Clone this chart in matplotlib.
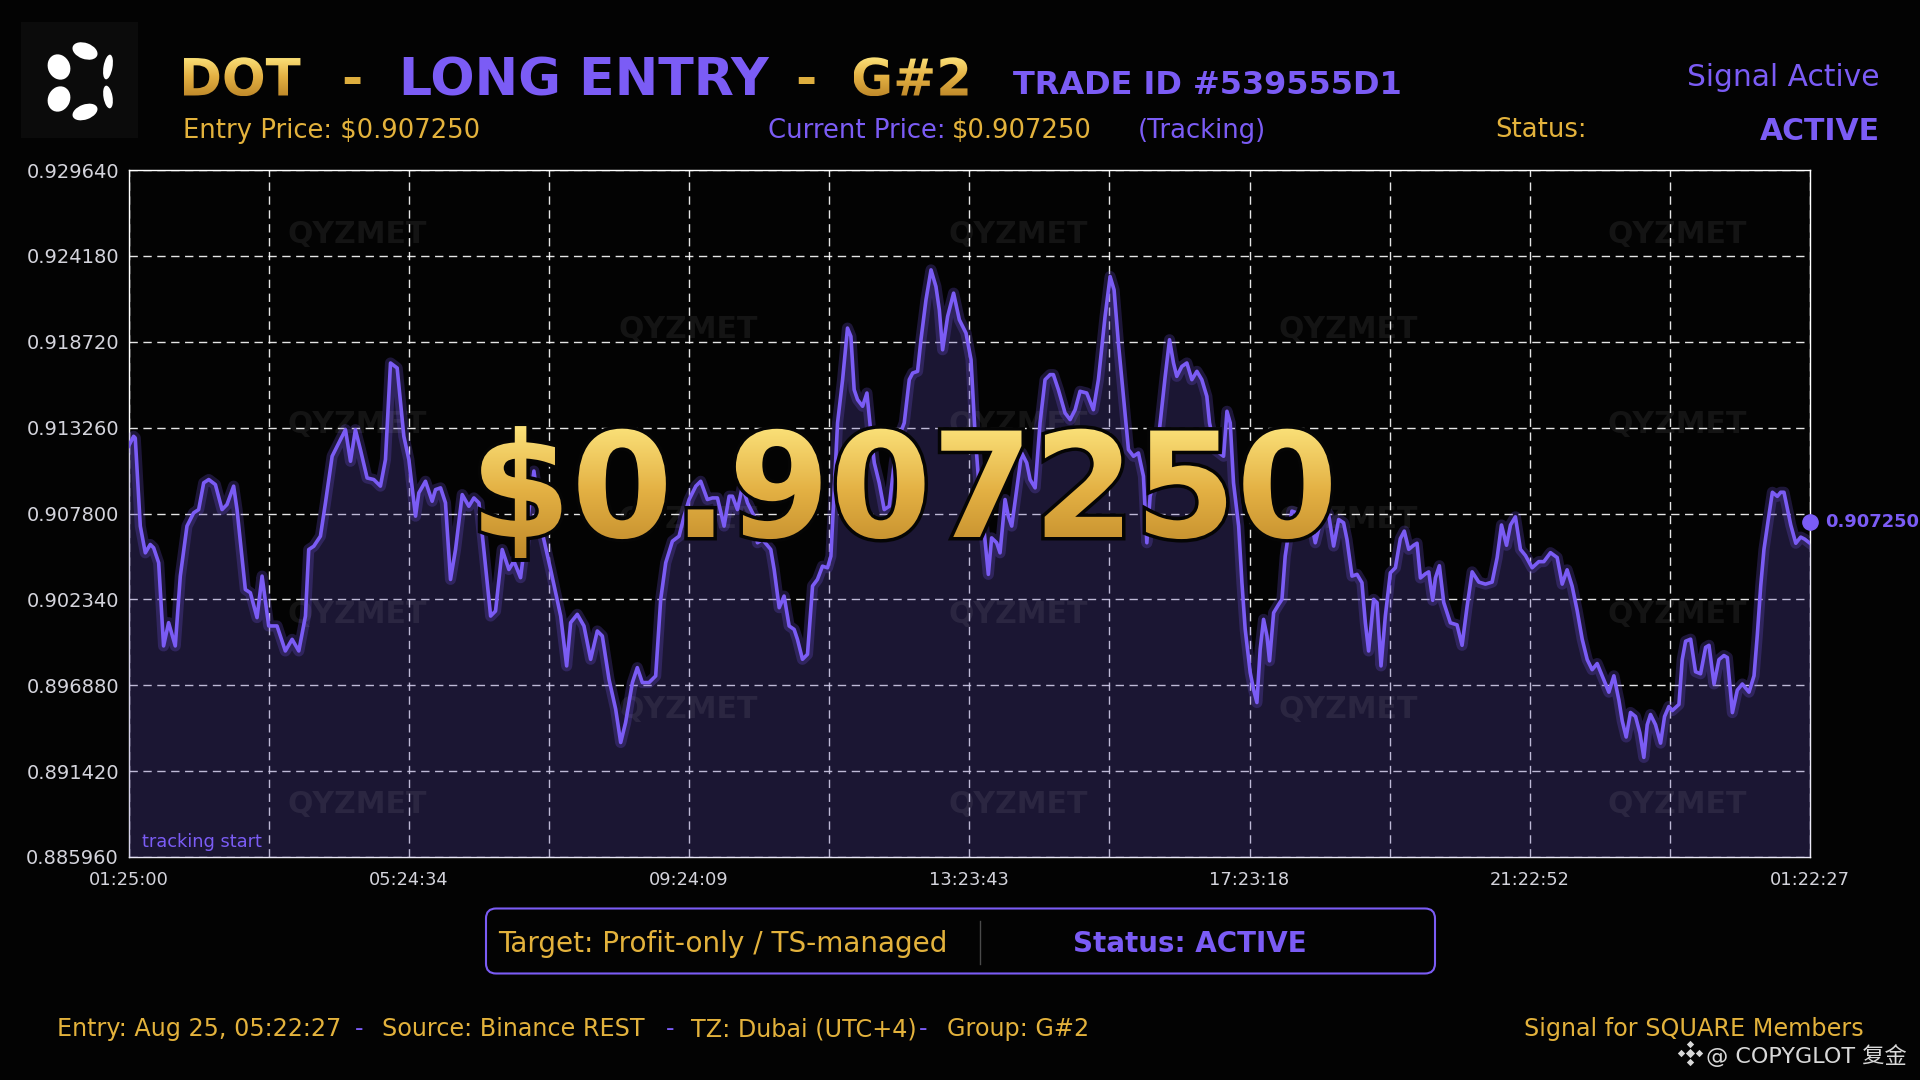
import numpy as np
import matplotlib
matplotlib.use("Agg")
import matplotlib.pyplot as plt
from matplotlib.textpath import TextPath
from matplotlib.patches import PathPatch, FancyBboxPatch, Rectangle, Ellipse
from matplotlib.font_manager import FontProperties
from matplotlib.transforms import Affine2D
from matplotlib.colors import LinearSegmentedColormap
import matplotlib.patheffects as pe

# ---- data: minutes after 01:25:00 and DOT price ----
minutes = [
    0, 4.3, 5.7, 10.0, 14.3, 18.5, 21.4, 25.7, 29.9, 34.2,
    39.9, 44.2, 49.9, 55.6, 59.9, 64.2, 68.5, 74.2, 79.9, 84.1,
    89.8, 92.7, 99.8, 104.1, 109.8, 114.1, 119.8, 126.9, 134.0, 139.8,
    145.5, 151.2, 154.0, 158.3, 164.0, 168.3, 174.0, 179.7, 185.4, 189.7,
    193.9, 198.2, 203.9, 209.6, 215.3, 219.6, 223.9, 229.6, 235.3, 239.6,
    245.3, 248.1, 253.8, 259.5, 262.4, 266.7, 270.9, 275.2, 279.5, 285.2,
    290.9, 295.2, 299.5, 303.7, 309.5, 313.7, 319.4, 325.1, 329.4, 335.1,
    346.5, 353.7, 360.8,
    369.4, 374.5, 377.9, 383.6, 389.3, 395.0, 400.7, 405.0, 410.7, 416.4,
    420.7, 424.9, 430.7, 434.9, 439.2, 444.9, 450.6, 454.9, 459.2, 464.9,
    470.6, 474.9, 479.2, 484.9, 489.1, 494.8, 499.1, 503.4, 509.1, 513.4,
    516.2, 520.5, 524.8, 529.1, 534.8, 537.6, 541.9, 549.0, 551.9, 556.2,
    560.4, 564.7, 569.0, 571.8, 576.1, 580.4, 584.7, 588.9, 593.2, 597.5,
    600.4, 603.2, 606.1, 610.4, 614.6, 617.5, 620.3, 623.2, 627.5, 631.2,
    634.6, 637.5, 641.7, 646.0, 650.3, 654.6, 658.8, 663.1, 667.4, 670.3,
    674.5, 677.4, 681.7, 686.0, 690.2, 693.1, 695.9, 700.2, 705.3, 710.2,
    715.9, 720.2,
    723.6, 726.4, 732.1, 735.0, 737.8, 742.1, 745.0, 749.3, 752.1, 755.0,
    759.2, 763.5, 767.8, 770.7, 775.0, 779.2, 783.5, 787.8, 790.6, 794.9,
    800.6, 804.9, 809.2, 813.4, 819.1, 824.8, 829.1, 834.8, 839.1, 842.5,
    846.2, 850.5, 854.8, 859.1, 863.3, 867.6, 870.5, 873.3, 876.2, 881.9,
    886.2, 889.9, 893.3, 896.1, 900.4, 904.7, 909.0, 913.3, 917.5, 921.8,
    924.1, 928.9, 936.1, 939.0, 941.8, 944.6, 949.0, 951.8, 954.6, 958.9,
    961.7, 964.6, 967.4, 970.3, 973.2, 975.4, 978.9, 983.2, 986.0, 988.8,
    991.7, 994.5, 998.8, 1003.1, 1010.2, 1014.5, 1018.8, 1023.0, 1025.9, 1030.2,
    1034.5, 1038.7, 1041.6, 1045.9, 1050.2, 1054.4, 1057.3, 1060.1, 1064.4, 1067.3,
    1070.7, 1074.4, 1078.7, 1083.0, 1087.2,
    1090.6, 1094.4, 1098.6, 1101.5, 1104.4, 1108.6, 1111.5, 1114.9, 1117.2, 1120.6,
    1124.3, 1130.0, 1135.7, 1140.0, 1144.3, 1148.6, 1154.3, 1160.0, 1165.7, 1170.0,
    1173.7, 1178.0, 1181.4, 1185.6, 1189.9, 1194.2, 1199.9, 1205.6, 1209.9, 1215.6,
    1221.3, 1225.6, 1229.8, 1234.1, 1238.4, 1242.7, 1247.0, 1251.2, 1255.5, 1259.8,
    1265.5, 1269.8, 1274.1, 1276.9, 1280.3, 1284.0, 1288.3, 1292.0, 1295.4, 1298.3,
    1301.1, 1305.4, 1309.7, 1313.1, 1316.8, 1319.7, 1325.4, 1328.2, 1331.1, 1335.4,
    1339.6, 1343.9, 1348.2, 1351.1, 1355.4, 1359.6, 1363.9, 1366.8, 1371.1, 1375.3,
    1379.6, 1382.5, 1385.3, 1389.6, 1392.4, 1395.3, 1398.1, 1402.4, 1405.3, 1409.5,
    1412.4, 1415.2, 1418.1, 1421.0, 1425.3, 1429.5, 1432.9, 1437.4,
]
prices = [
    0.91208, 0.91271, 0.91260, 0.90700, 0.90530, 0.90583, 0.90562, 0.90467, 0.89938, 0.90086,
    0.89938, 0.90382, 0.90700, 0.90784, 0.90805, 0.90975, 0.90996, 0.90964, 0.90805, 0.90837,
    0.90954, 0.90805, 0.90297, 0.90276, 0.90118, 0.90382, 0.90065, 0.90065, 0.89906, 0.89980,
    0.89906, 0.90128, 0.90551, 0.90572, 0.90636, 0.90848, 0.91144, 0.91229, 0.91313, 0.91112,
    0.91313, 0.91186, 0.91006, 0.90996, 0.90954, 0.91123, 0.91737, 0.91705, 0.91271, 0.91123,
    0.90763, 0.90911, 0.90985, 0.90858, 0.90932, 0.90943, 0.90848, 0.90361, 0.90551, 0.90900,
    0.90826, 0.90879, 0.90848, 0.90551, 0.90128, 0.90160, 0.90551, 0.90424, 0.90477, 0.90372,
    0.91050, 0.90657, 0.90424,
    0.90128, 0.89811, 0.90086, 0.90139, 0.90065, 0.89853, 0.90033, 0.90001, 0.89726, 0.89536,
    0.89324, 0.89451, 0.89705, 0.89800, 0.89705, 0.89705, 0.89747, 0.90234, 0.90467, 0.90604,
    0.90636, 0.90763, 0.90869, 0.90954, 0.90985, 0.90869, 0.90879, 0.90879, 0.90700, 0.90890,
    0.90890, 0.90805, 0.90954, 0.90848, 0.90763, 0.90594, 0.90615, 0.90551, 0.90424, 0.90181,
    0.90255, 0.90065, 0.90043, 0.89980, 0.89853, 0.89885, 0.90319, 0.90361, 0.90445, 0.90435,
    0.90509, 0.90932, 0.91356, 0.91631, 0.91959, 0.91906, 0.91567, 0.91504, 0.91462, 0.91546,
    0.91292, 0.91102, 0.90975, 0.90805, 0.90826, 0.91102, 0.91271, 0.91356, 0.91631, 0.91673,
    0.91684, 0.91885, 0.92139, 0.92329, 0.92223, 0.92075, 0.91821, 0.92033, 0.92181, 0.92012,
    0.91927, 0.91758,
    0.91292, 0.91017, 0.90615, 0.90393, 0.90625, 0.90594, 0.90530, 0.90869, 0.90763, 0.90700,
    0.90932, 0.91165, 0.91102, 0.90996, 0.90943, 0.91356, 0.91631, 0.91663, 0.91663, 0.91567,
    0.91419, 0.91377, 0.91440, 0.91557, 0.91546, 0.91440, 0.91631, 0.92033, 0.92287, 0.92202,
    0.91864, 0.91525, 0.91186, 0.91144, 0.91165, 0.91017, 0.90594, 0.90890, 0.90975, 0.91356,
    0.91652, 0.91885, 0.91737, 0.91652, 0.91715, 0.91737, 0.91631, 0.91684, 0.91631, 0.91525,
    0.91356, 0.91186, 0.91144, 0.91430, 0.91356, 0.90975, 0.90700, 0.90340, 0.90043, 0.89768,
    0.89662, 0.89578, 0.89917, 0.90107, 0.90001, 0.89843, 0.90149, 0.90202, 0.90234, 0.90509,
    0.90657, 0.90795, 0.90784, 0.90784, 0.90763, 0.90594, 0.90721, 0.90805, 0.90774, 0.90573,
    0.90742, 0.90721, 0.90615, 0.90382, 0.90393, 0.90340, 0.90086, 0.89906, 0.90234, 0.90213,
    0.89811, 0.90128, 0.90403, 0.90435, 0.90620,
    0.90668, 0.90552, 0.90578, 0.90591, 0.90370, 0.90396, 0.90409, 0.90228, 0.90370, 0.90448,
    0.90215, 0.90085, 0.90072, 0.89942, 0.90189, 0.90409, 0.90344, 0.90331, 0.90344, 0.90500,
    0.90707, 0.90578, 0.90707, 0.90759, 0.90552, 0.90513, 0.90435, 0.90474, 0.90474, 0.90531,
    0.90500, 0.90331, 0.90422, 0.90318, 0.90163, 0.89981, 0.89851, 0.89787, 0.89826, 0.89748,
    0.89644, 0.89748, 0.89592, 0.89462, 0.89359, 0.89515, 0.89489, 0.89385, 0.89229, 0.89437,
    0.89502, 0.89437, 0.89320, 0.89489, 0.89553, 0.89527, 0.89566, 0.89851, 0.89968, 0.89981,
    0.89774, 0.89761, 0.89929, 0.89942, 0.89696, 0.89851, 0.89877, 0.89864, 0.89514, 0.89657,
    0.89696, 0.89670, 0.89644, 0.89748, 0.90007, 0.90318, 0.90552, 0.90772, 0.90915, 0.90889,
    0.90915, 0.90915, 0.90811, 0.90707, 0.90591, 0.90630, 0.90617, 0.90591,
]
current_price = 0.907250
total_minutes = 23 * 60 + 57 + 27 / 60
y_ticks = [0.885960, 0.891420, 0.896880, 0.902340, 0.907800,
           0.913260, 0.918720, 0.924180, 0.929640]
x_tick_labels = ["01:25:00", "05:24:34", "09:24:09", "13:23:43",
                 "17:23:18", "21:22:52", "01:22:27"]

PURPLE = "#7b5cf5"
GOLD = "#e3b23c"
BG = "#030303"
TICK = "#d4d4dc"

gold_cmap = LinearSegmentedColormap.from_list("gold", ["#c08a2a", "#e3b043", "#fbe27a"])
grad = np.linspace(0, 1, 256).reshape(-1, 1)


def gold_text(ax, x, y, s, size, ha="left", outline=3.0):
    # text drawn as a path, filled with a vertical gold gradient
    prop = FontProperties(family="DejaVu Sans", weight="bold")
    tp = TextPath((0, 0), s, size=size, prop=prop)
    bb = tp.get_extents()
    dx = x - (bb.x0 + bb.x1) / 2 if ha == "center" else x - bb.x0
    trans = Affine2D().translate(dx, y) + ax.transData
    ax.add_patch(PathPatch(tp, transform=trans, facecolor="none",
                           edgecolor="#050505", lw=outline, zorder=8))
    im = ax.imshow(grad, cmap=gold_cmap, aspect="auto", origin="lower",
                   extent=(bb.x0 + dx, bb.x1 + dx, bb.y0 + y, bb.y1 + y), zorder=9)
    im.set_clip_path(PathPatch(tp, transform=trans))


fig = plt.figure(figsize=(19.2, 10.8), dpi=100, facecolor=BG)

# ---- main chart ----
ax = fig.add_axes([128.6 / 1920, 1 - 857 / 1080, (1810 - 128.6) / 1920, (857 - 170) / 1080])
ax.set_facecolor(BG)
ax.set_xlim(0, total_minutes)
ax.set_ylim(y_ticks[0], y_ticks[-1])
ax.set_yticks(y_ticks)
ax.set_yticklabels([f"{v:.6f}" for v in y_ticks])
xt = np.linspace(0, total_minutes, 13)
ax.set_xticks(xt)
ax.set_xticklabels([x_tick_labels[i // 2] if i % 2 == 0 else "" for i in range(13)])
ax.tick_params(axis="y", length=0, colors=TICK, labelsize=14, pad=7)
ax.tick_params(axis="x", length=0, colors=TICK, labelsize=12.8, pad=10)
for sp in ax.spines.values():
    sp.set_color("white")
    sp.set_linewidth(1)
ax.set_axisbelow(True)
ax.grid(True, color="white", ls=(0, (6, 4)), lw=1, alpha=0.9)

ax.fill_between(minutes, prices, y_ticks[0], color="#5a48b0", alpha=0.28, lw=0, zorder=2.6)
ax.plot(minutes, prices, color=PURPLE, lw=2.6, zorder=4,
        path_effects=[pe.Stroke(linewidth=8, foreground=PURPLE, alpha=0.22), pe.Normal()])

for r in range(7):
    yy = 0.9055 - r * 0.1381
    cols = [0.1362, 0.5288, 0.9213] if r % 2 == 0 else [0.3328, 0.7254]
    for xx in cols:
        ax.text(xx, yy, "QYZMET", transform=ax.transAxes, ha="center", va="center",
                fontsize=21.5, fontweight="bold", color="white", alpha=0.07, zorder=3)

ax.text(0.008, 0.009, "tracking start", transform=ax.transAxes, color=PURPLE,
        fontsize=12.8, ha="left", va="bottom", zorder=5)
ax.plot([total_minutes], [current_price], "o", ms=11, color=PURPLE, clip_on=False, zorder=6)
ax.annotate(f"{current_price:.6f}", xy=(total_minutes, current_price), xytext=(11, 0),
            textcoords="offset points", va="center", ha="left", color=PURPLE,
            fontsize=12.9, fontweight="bold", annotation_clip=False)

# ---- overlay in pixel units for header / footer ----
ov = fig.add_axes([0, 0, 1, 1], zorder=5)
ov.patch.set_alpha(0)
ov.axis("off")

# logo
ov.add_patch(Rectangle((21, 1080 - 138), 117, 116, facecolor="#0b0b0b", lw=0))
dots = [(85, 51, 26, 16, -20), (59, 67, 22, 26, 25), (108, 67, 9, 25, -10),
        (59, 99, 22, 26, -25), (108, 97, 9, 23, 10), (85, 112, 26, 15, 20)]
for cx, cy, w, h, a in dots:
    ov.add_patch(Ellipse((cx, 1080 - cy), w, h, angle=a, color="white", lw=0))

# title line
gold_text(ov, 184, 984.5, "DOT", 51.4, outline=1.5)
ov.text(341, 984.5, "-", color="#deae3e", fontsize=37, fontweight="bold", va="baseline")
ov.text(399, 984.5, "LONG ENTRY", color=PURPLE, fontsize=37.5, fontweight="bold", va="baseline")
ov.text(795, 984.5, "-", color="#deae3e", fontsize=37, fontweight="bold", va="baseline")
gold_text(ov, 853.5, 984.5, "G#2", 51.4, outline=1.5)
ov.text(1013, 986, "TRADE ID #539555D1", color=PURPLE, fontsize=23, fontweight="bold", va="baseline")
ov.text(1880, 994.3, "Signal Active", color=PURPLE, fontsize=21.4, ha="right", va="baseline")

# second line
ov.text(183, 941.6, "Entry Price: $0.907250", color=GOLD, fontsize=18.6, va="baseline")
ov.text(768, 941.6, "Current Price:", color=PURPLE, fontsize=18.6, va="baseline")
ov.text(952, 941.6, "$0.907250", color=GOLD, fontsize=18.6, va="baseline")
ov.text(1138, 941.6, "(Tracking)", color=PURPLE, fontsize=18.6, va="baseline")
ov.text(1495, 943, "Status:", color=GOLD, fontsize=18.6, va="baseline")
ov.text(1880, 940.4, "ACTIVE", color=PURPLE, fontsize=21.5, fontweight="bold", ha="right", va="baseline")

# big price
gold_text(ov, 906, 543, "$0.907250", 146, ha="center", outline=5)

# info box
ov.add_patch(FancyBboxPatch((486, 1080 - 973.5), 949, 65,
                            boxstyle="round,pad=0,rounding_size=10",
                            facecolor=BG, edgecolor=PURPLE, lw=1.5))
ov.plot([979.6, 979.6], [1080 - 964, 1080 - 921], color="#4a4a4a", lw=1)
ov.text(498, 128.5, "Target: Profit-only / TS-managed", color=GOLD, fontsize=20.1, va="baseline")
ov.text(1190, 128.5, "Status: ACTIVE", color=PURPLE, fontsize=20, fontweight="bold",
        ha="center", va="baseline")

# footer
footer = [("Entry: Aug 25, 05:22:27", 57, GOLD), ("-", 355, PURPLE),
          ("Source: Binance REST", 382, GOLD), ("-", 666, PURPLE),
          ("TZ: Dubai (UTC+4)", 691, GOLD), ("-", 919, PURPLE),
          ("Group: G#2", 947, GOLD)]
for txt, fx, col in footer:
    ov.text(fx, 44, txt, color=col, fontsize=17.2, va="baseline")
ov.text(1864, 44, "Signal for SQUARE Members", color=GOLD, fontsize=17.2, ha="right", va="baseline")

# platform watermark
for ddx, ddy, s in [(0, 0, 22), (-9, 0, 14), (9, 0, 14), (0, 9, 14), (0, -9, 14)]:
    ov.scatter([1690 + ddx], [27 + ddy], marker="D", s=s, color="#d8d8d8", lw=0)
ov.text(1706, 17, "@ COPYGLOT 复金", color="#d8d8d8", fontsize=16, va="baseline",
        family=["DejaVu Sans", "Noto Sans CJK SC"])

ov.set_xlim(0, 1920)
ov.set_ylim(0, 1080)

fig.savefig("out.png", dpi=100, facecolor=BG)
